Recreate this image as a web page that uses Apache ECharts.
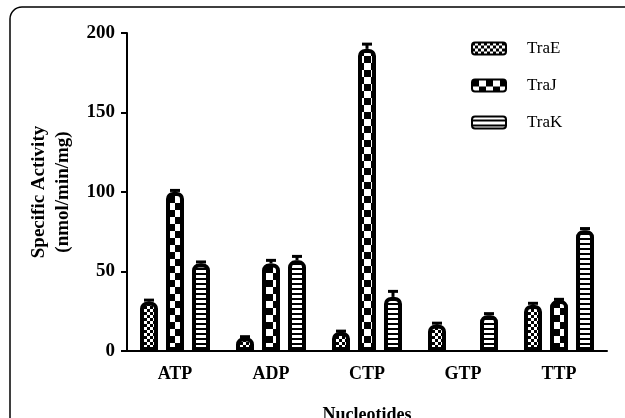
<!DOCTYPE html>
<html>
<head>
<meta charset="utf-8">
<script src="https://cdn.jsdelivr.net/npm/echarts@6/dist/echarts.min.js"></script>
<style>html,body{margin:0;padding:0;background:#fff;}#c{width:625px;height:418px;}</style>
</head>
<body>
<div id="c"></div>
<script>
const categories = ['ATP', 'ADP', 'CTP', 'GTP', 'TTP'];
const seriesNames = ['TraE', 'TraJ', 'TraK'];
const traE = [31, 8.5, 12, 16.5, 29];
const traJ = [100, 55, 190, 0, 32];
const traK = [55, 57, 34, 22.5, 76];
const traEErr = [1, 0.5, 0.5, 1, 1];
const traJErr = [1, 2, 3, 0, 0.5];
const traKErr = [1, 2.5, 3.5, 1, 1];
const yTicks = [0, 50, 100, 150, 200];

function makePattern(kind) {
  const c = document.createElement('canvas');
  const ctx = c.getContext('2d');
  if (kind === 'fine') {
    c.width = 6; c.height = 6;
    ctx.fillStyle = '#fff'; ctx.fillRect(0, 0, 6, 6);
    ctx.fillStyle = '#000';
    ctx.fillRect(0, 0, 3, 3); ctx.fillRect(3, 3, 3, 3);
  } else if (kind === 'checker') {
    c.width = 14; c.height = 14;
    ctx.fillStyle = '#fff'; ctx.fillRect(0, 0, 14, 14);
    ctx.fillStyle = '#000';
    ctx.fillRect(0, 0, 7, 7); ctx.fillRect(7, 7, 7, 7);
  } else {
    c.width = 4; c.height = 5;
    ctx.fillStyle = '#fff'; ctx.fillRect(0, 0, 4, 5);
    ctx.fillStyle = '#000'; ctx.fillRect(0, 3, 4, 2);
  }
  return { image: c, repeat: 'repeat' };
}

const patterns = [makePattern('fine'), makePattern('checker'), makePattern('stripes')];
const values = [traE, traJ, traK];
const errs = [traEErr, traJErr, traKErr];
const barW = 18;
const step = 26;
const font = '"Liberation Serif", "Times New Roman", serif';

const chart = echarts.init(document.getElementById('c'));

const series = [];
seriesNames.forEach((name, i) => {
  series.push({
    name: name,
    type: 'bar',
    barWidth: barW,
    barGap: ((step - barW) / barW * 100) + '%',
    data: values[i].map(v => v === 0 ? { value: v, itemStyle: { borderWidth: 0 } } : v),
    itemStyle: {
      color: patterns[i],
      borderColor: '#000',
      borderWidth: 4,
      borderRadius: [5, 5, 0, 0]
    },
    emphasis: { disabled: true },
    z: 2
  });
});
seriesNames.forEach((name, i) => {
  series.push({
    type: 'custom',
    name: name + ' err',
    z: 3,
    data: categories.map((c, k) => [k, values[i][k], errs[i][k]]),
    renderItem: function (params, api) {
      const k = api.value(0), v = api.value(1), e = api.value(2);
      if (v <= 0) return null;
      const p0 = api.coord([k, v]);
      const p1 = api.coord([k, v + e]);
      const x = p0[0] + (i - 1) * step;
      return {
        type: 'group',
        children: [
          { type: 'line', shape: { x1: x, y1: p0[1], x2: x, y2: p1[1] }, style: { stroke: '#000', lineWidth: 3 } },
          { type: 'line', shape: { x1: x - 5, y1: p1[1], x2: x + 5, y2: p1[1] }, style: { stroke: '#000', lineWidth: 3 } }
        ]
      };
    }
  });
});

chart.setOption({
  animation: false,
  backgroundColor: '#fff',
  graphic: [{
    type: 'rect',
    shape: { x: 10, y: 7, width: 660, height: 460, r: 12 },
    style: { fill: 'none', stroke: '#000', lineWidth: 1.5 },
    silent: true
  }],
  legend: {
    data: seriesNames,
    orient: 'vertical',
    left: 471,
    top: 40,
    padding: 0,
    icon: 'roundRect',
    itemWidth: 34,
    itemHeight: 12,
    itemGap: 20,
    textStyle: { fontFamily: font, fontSize: 17, color: '#000', padding: [0, 0, 0, 16] }
  },
  grid: { left: 127, right: 18, top: 33, bottom: 67, outerBoundsMode: 'none', containLabel: false },
  xAxis: {
    type: 'category',
    data: categories,
    name: 'Nucleotides',
    nameLocation: 'middle',
    nameGap: 55,
    nameTextStyle: { fontFamily: font, fontSize: 18, fontWeight: 'bold', color: '#000' },
    axisLine: { lineStyle: { color: '#000', width: 2 } },
    axisTick: { alignWithLabel: true, length: 9, lineStyle: { color: '#000', width: 2 } },
    axisLabel: { fontFamily: font, fontSize: 18, fontWeight: 'bold', color: '#000', margin: 14 },
    splitLine: { show: false }
  },
  yAxis: {
    type: 'value',
    min: yTicks[0],
    max: yTicks[yTicks.length - 1],
    interval: yTicks[1] - yTicks[0],
    name: 'Specific Activity\n(nmol/min/mg)',
    nameLocation: 'middle',
    nameGap: 52,
    nameTextStyle: { fontFamily: font, fontSize: 19, fontWeight: 'bold', color: '#000', lineHeight: 24 },
    axisLine: { show: true, lineStyle: { color: '#000', width: 2 } },
    axisTick: { show: true, length: 6, lineStyle: { color: '#000', width: 2 } },
    axisLabel: { fontFamily: font, fontSize: 19, fontWeight: 'bold', color: '#000', margin: 12 },
    splitLine: { show: false }
  },
  series: series
});
</script>
</body>
</html>
